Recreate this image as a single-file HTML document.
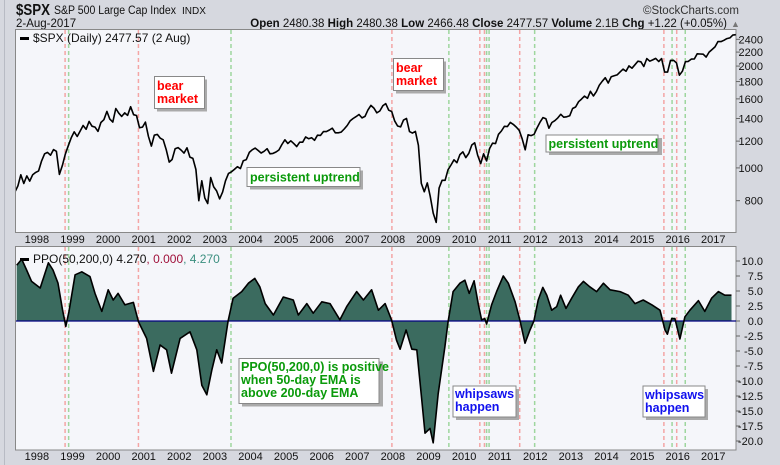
<!DOCTYPE html>
<html><head><meta charset="utf-8"><style>
html,body{margin:0;padding:0;background:#d6d8df;}
svg{display:block;font-family:"Liberation Sans",sans-serif;}
</style></head><body>
<svg id="chart" width="780" height="465" viewBox="0 0 780 465" xmlns="http://www.w3.org/2000/svg">
<rect x="0" y="0" width="780" height="465" fill="#d6d8df"/>
<line x1="4.5" y1="0" x2="4.5" y2="465" stroke="#b8bbc4"/>
<g>
<text x="16" y="15" font-size="16" font-weight="bold" fill="#111" textLength="34" lengthAdjust="spacingAndGlyphs">$SPX</text>
<text x="54" y="14" font-size="11.5" fill="#111" textLength="122" lengthAdjust="spacingAndGlyphs">S&amp;P 500 Large Cap Index</text>
<text x="182" y="14" font-size="10" fill="#111">INDX</text>
<text x="16" y="27" font-size="11.5" fill="#111">2-Aug-2017</text>
<text x="739" y="14" font-size="11.5" fill="#333" text-anchor="end">©StockCharts.com</text>
<text x="727" y="27" font-size="11.5" fill="#111" text-anchor="end"><tspan font-weight="bold">Open</tspan> 2480.38 <tspan font-weight="bold">High</tspan> 2480.38 <tspan font-weight="bold">Low</tspan> 2466.48 <tspan font-weight="bold">Close</tspan> 2477.57 <tspan font-weight="bold">Volume</tspan> 2.1B <tspan font-weight="bold">Chg</tspan> +1.22 (+0.05%)</text>
<text x="731" y="27" font-size="9" fill="#777">▲</text>
</g>
<rect x="15.5" y="29.5" width="720.5" height="203" fill="#f5f6fa" stroke="#888"/>
<rect x="15.5" y="246.5" width="720.5" height="203.5" fill="#f5f6fa" stroke="#888"/>
<defs>
<clipPath id="c1"><rect x="16" y="30" width="720" height="202"/></clipPath>
<clipPath id="c2"><rect x="16" y="247" width="720" height="203"/></clipPath>
</defs>
<g id="vlines"></g>
<g id="ppoArea" clip-path="url(#c2)"></g>
<g id="priceLine" clip-path="url(#c1)"></g>
<g id="axes"></g>
<g>
<rect x="20" y="37" width="9" height="3" fill="#000"/>
<text x="33" y="42" font-size="12" fill="#111">$SPX (Daily) 2477.57 (2 Aug)</text>
</g>
<g>
<rect x="20" y="258" width="9" height="3" fill="#000"/>
<text x="33" y="263" font-size="12" fill="#111">PPO(50,200,0) 4.270<tspan fill="#a0103a">, 0.000</tspan><tspan fill="#3b8f7f">, 4.270</tspan></text>
</g>
<g font-weight="bold" font-size="12.5">
<g>
<rect x="157" y="79.5" width="50" height="32" fill="#aaa"/><rect x="154.5" y="76.5" width="50" height="32" fill="#fff" stroke="#888"/>
<text x="157" y="90" fill="#f00">bear</text><text x="157" y="103" fill="#f00">market</text></g>
<g>
<rect x="396" y="61.5" width="50" height="32" fill="#aaa"/><rect x="393.5" y="58.5" width="50" height="32" fill="#fff" stroke="#888"/>
<text x="396" y="72" fill="#f00">bear</text><text x="396" y="85" fill="#f00">market</text></g>
<g>
<rect x="250" y="170.5" width="113" height="19" fill="#aaa"/><rect x="247" y="167.5" width="113" height="19" fill="#fff" stroke="#888"/>
<text x="250" y="181.5" fill="#0a9a0a">persistent uptrend</text></g>
<g>
<rect x="549" y="138" width="113" height="17" fill="#aaa"/><rect x="546" y="135" width="112" height="17" fill="#fff" stroke="#888"/>
<text x="548.5" y="148" fill="#0a9a0a">persistent uptrend</text></g>
<g>
<rect x="242" y="361.5" width="141" height="45" fill="#aaa"/><rect x="239" y="358.5" width="140" height="45" fill="#fff" stroke="#888"/>
<text x="241" y="371" fill="#0a9a0a">PPO(50,200,0) is positive</text>
<text x="241" y="384" fill="#0a9a0a">when 50-day EMA is</text>
<text x="241" y="397" fill="#0a9a0a">above 200-day EMA</text></g>
<g>
<rect x="456" y="389" width="63" height="31" fill="#aaa"/><rect x="453" y="386" width="63" height="31" fill="#fff" stroke="#888"/>
<text x="455" y="398" fill="#1010ee">whipsaws</text><text x="455" y="411" fill="#1010ee">happen</text></g>
<g>
<rect x="646" y="389" width="62" height="31" fill="#aaa"/><rect x="643" y="386" width="62" height="31" fill="#fff" stroke="#888"/>
<text x="645" y="399" fill="#1010ee">whipsaws</text><text x="645" y="412" fill="#1010ee">happen</text></g>
</g>
</svg>
<script>
// ---- data ----
const priceStartYear = 1997.41; // monthly closes, May 1997 onward
const priceValues = [848,885,954,899,947,914,955,970,
980,1049,1101,1111,1090,1133,1120,957,1017,1098,1163,1229,
1279,1238,1286,1335,1301,1372,1328,1320,1282,1362,1388,1469,
1394,1366,1498,1452,1420,1454,1430,1517,1436,1429,1315,1320,
1366,1240,1160,1249,1256,1224,1211,1133,1040,1059,1139,1148,
1130,1106,1147,1076,1067,989,800,916,815,785,936,879,
855,810,848,916,963,974,990,1008,995,1050,1058,1111,
1131,1144,1126,1107,1120,1140,1101,1104,1114,1130,1173,1211,
1181,1203,1180,1156,1191,1191,1234,1220,1228,1207,1249,1248,
1280,1280,1294,1310,1270,1270,1276,1303,1335,1377,1400,1418,
1438,1406,1420,1482,1530,1503,1455,1473,1526,1549,1481,1468,
1378,1330,1322,1385,1400,1280,1267,1282,1166,900,850,903,
825,735,690,872,919,919,987,1020,1057,1036,1095,1115,
1073,1104,1169,1186,1089,1030,1101,1049,1141,1183,1180,1257,
1286,1327,1325,1363,1345,1320,1292,1218,1131,1253,1246,1257,
1312,1365,1408,1397,1310,1362,1379,1406,1440,1412,1416,1426,
1498,1514,1569,1597,1630,1606,1685,1632,1681,1756,1805,1848,
1782,1859,1872,1883,1923,1960,1930,2003,1972,2018,2067,2059,
1995,2104,2068,2086,2107,2063,2104,1920,1920,2079,2080,2044,
1880,1932,2060,2065,2097,2099,2174,2171,2168,2126,2199,2239,
2279,2364,2363,2384,2412,2423,2470,2477];
const ppoDates = [1997.46,1997.60,1997.74,1997.88,1998.12,1998.35,1998.48,1998.62,1998.75,1998.84,1998.93,1999.10,1999.29,1999.52,1999.66,1999.85,2000.03,2000.17,2000.31,2000.50,2000.74,2000.88,2001.11,2001.30,2001.49,2001.67,2001.81,2002.05,2002.33,2002.52,2002.66,2002.80,2002.94,2003.08,2003.22,2003.40,2003.54,2003.78,2003.97,2004.15,2004.29,2004.44,2004.67,2004.95,2005.23,2005.37,2005.61,2005.79,2006.03,2006.26,2006.54,2006.73,2007.01,2007.20,2007.43,2007.62,2007.81,2007.99,2008.13,2008.23,2008.40,2008.56,2008.70,2008.84,2008.93,2009.07,2009.16,2009.30,2009.49,2009.58,2009.72,2009.91,2010.05,2010.17,2010.31,2010.43,2010.52,2010.61,2010.66,2010.80,2010.94,2011.13,2011.27,2011.46,2011.60,2011.74,2011.88,2011.99,2012.11,2012.24,2012.35,2012.49,2012.63,2012.74,2012.89,2013.05,2013.24,2013.38,2013.56,2013.75,2013.94,2014.13,2014.41,2014.64,2014.83,2015.06,2015.30,2015.53,2015.67,2015.74,2015.86,2015.95,2016.09,2016.23,2016.37,2016.61,2016.79,2016.98,2017.17,2017.35,2017.54];
const ppoValues = [9.3,10.3,8.5,6.6,5.5,9.7,8.5,6.3,1.8,-0.9,1.6,7.7,8.2,7.4,4.6,1.6,5.2,3.5,4.6,2.7,3.1,-0.1,-2.9,-8.4,-4.0,-4.8,-8.7,-2.9,-1.8,-4.8,-10.7,-12.3,-8.2,-4.8,-7.0,0.0,3.8,4.9,6.3,7.1,5.7,2.9,1.0,4.0,3.5,1.0,2.9,1.3,3.2,2.9,0.2,2.4,4.9,3.5,5.2,1.8,2.9,0.2,-3.2,-4.7,-1.5,-4.7,-4.8,-13.2,-18.7,-17.9,-20.3,-12.1,-4.3,-0.1,4.9,6.3,6.8,4.6,6.7,2.7,0.2,0.4,-0.5,2.7,4.9,7.5,6.3,3.2,0.0,-3.7,-1.5,0.0,3.5,5.6,4.3,1.8,2.4,4.3,2.1,3.8,5.7,6.6,5.7,4.9,6.3,5.2,4.9,4.3,2.9,3.5,2.7,1.8,-1.5,-2.2,0.4,0.4,-3.0,0.7,1.8,3.4,1.6,3.8,4.9,4.3,4.3];
const yearLabels = [1998,1999,2000,2001,2002,2003,2004,2005,2006,2007,2008,2009,2010,2011,2012,2013,2014,2015,2016,2017];
const priceTicks = [800,1000,1200,1400,1600,1800,2000,2200,2400];
const ppoTicks = [10,7.5,5,2.5,0,-2.5,-5,-7.5,-10,-12.5,-15,-17.5,-20];
const sellDates = [1998.82,2000.88,2008.00,2010.47,2010.60,2011.59,2015.64,2016.00];
const buyDates = [1998.92,2003.48,2009.60,2010.66,2010.73,2012.01,2015.87,2016.24];

// ---- scales ----
const NS='http://www.w3.org/2000/svg';
function xT(t){return 35.9+(t-1998)*35.6;}
function yP(v){return 39.3+146.9*Math.log(2400/v);}
function yQ(v){return 321-6*v;}
function mk(tag,attrs,parent){const e=document.createElementNS(NS,tag);for(const k in attrs)e.setAttribute(k,attrs[k]);parent.appendChild(e);return e;}

const vg=document.getElementById('vlines');
sellDates.forEach(function(t){
  [[30,232],[247,450]].forEach(function(r){
    const l=mk('line',{x1:xT(t),x2:xT(t),y1:r[0],y2:r[1],stroke:'#f4a5a5','stroke-width':1.5,'stroke-dasharray':'4,3'},vg);
    
    
  });
});
buyDates.forEach(function(t){
  [[30,232],[247,450]].forEach(function(r){
    const l=mk('line',{x1:xT(t),x2:xT(t),y1:r[0],y2:r[1],stroke:'#9ed69e','stroke-width':1.5,'stroke-dasharray':'4,3'},vg);
    
    
  });
});

let pd='';
priceValues.forEach(function(v,i){const t=priceStartYear+i/12;pd+=(i?'L':'M')+xT(t).toFixed(1)+','+yP(v).toFixed(1);});
const pl=mk('path',{d:pd,fill:'none',stroke:'#000','stroke-width':1.6,'stroke-linejoin':'round'},document.getElementById('priceLine'));



const ag=document.getElementById('ppoArea');
let ld='';
ppoDates.forEach(function(t,i){ld+=(i?'L':'M')+xT(t).toFixed(1)+','+yQ(ppoValues[i]).toFixed(1);});
const x0=xT(ppoDates[0]),x1=xT(ppoDates[ppoDates.length-1]);
const area=mk('path',{d:'M'+x0+','+yQ(0)+ld.replace(/^M/,'L')+'L'+x1+','+yQ(0)+'Z',fill:'#3b6b5f'},ag);


const zl=mk('line',{x1:16,x2:736,y1:yQ(0),y2:yQ(0),stroke:'#000080','stroke-width':1.2},ag);


const ppl=mk('path',{d:ld,fill:'none',stroke:'#000','stroke-width':1.6,'stroke-linejoin':'round'},ag);



const ax=document.getElementById('axes');
yearLabels.forEach(function(y){
  [243,460].forEach(function(yy){
    const tx=mk('text',{x:xT(y)+1,y:yy,'font-size':11,'text-anchor':'middle',fill:'#111'},ax);
    tx.textContent=y;
    
    
  });
});
priceTicks.forEach(function(v){
  const tk=mk('line',{x1:736,x2:740,y1:yP(v),y2:yP(v),stroke:'#666'},ax);
  
  
  const tx=mk('text',{x:763,y:yP(v)+4,'font-size':11,'text-anchor':'end',fill:'#111'},ax);
  tx.textContent=v;
  
  
});
ppoTicks.forEach(function(v){
  const tk=mk('line',{x1:736,x2:740,y1:yQ(v),y2:yQ(v),stroke:'#666'},ax);
  
  
  const tx=mk('text',{x:763,y:yQ(v)+4,'font-size':11,'text-anchor':'end',fill:'#111'},ax);
  tx.textContent=v.toFixed(1);
  
  
});
</script>
</body></html>
